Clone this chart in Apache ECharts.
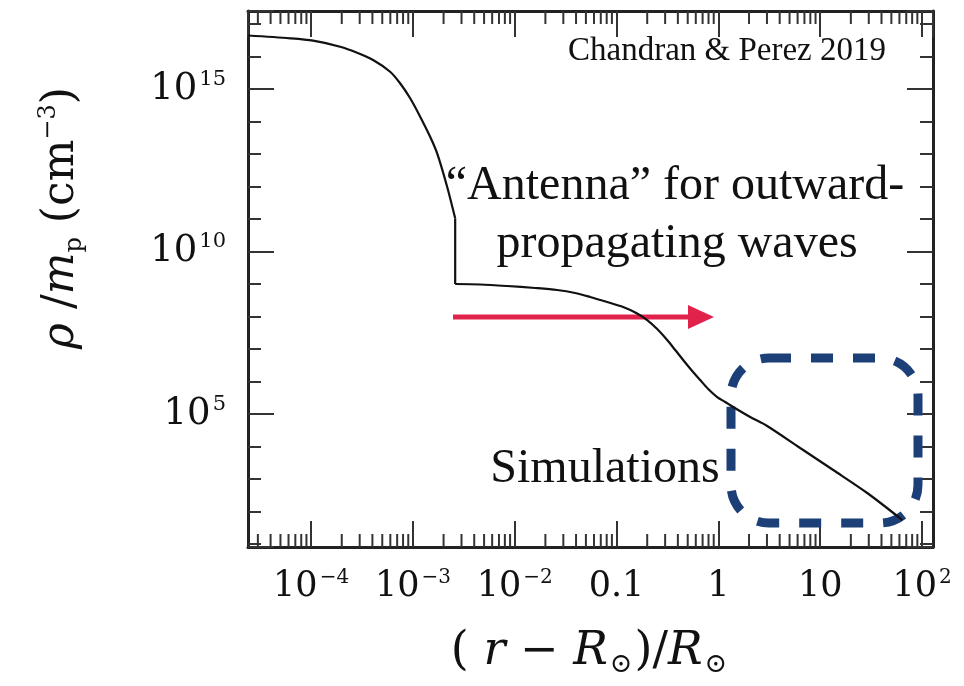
<!DOCTYPE html>
<html><head><meta charset="utf-8">
<script src="https://cdn.jsdelivr.net/npm/echarts@6/dist/echarts.min.js"></script>
<style>html,body{margin:0;padding:0;background:#fff}#c{width:964px;height:686px}</style>
</head><body><div id="c"></div>
<script>
// (r - R_sun)/R_sun
const radius = [2.40e-5, 6.22e-5, 1.047e-4, 1.928e-4, 2.831e-4, 4.064e-4, 5.970e-4, 7.482e-4, 9.397e-4,
  1.178e-3, 1.476e-3, 1.730e-3, 2.168e-3, 2.600e-3, 2.600e-3, 4.571e-3, 8.414e-3, 1.585e-2, 2.612e-2,
  3.917e-2, 5.508e-2, 8.091e-2, 0.1161, 0.1560, 0.2000, 0.2506, 0.3141, 0.3767, 0.4508, 0.5534, 0.6622,
  0.7943, 0.9727, 1.167, 1.396, 2.051, 3.013, 6.353, 13.43, 28.97, 64.0];
// rho / m_p  (cm^-3)
const density = [4.43e16, 3.63e16, 3.06e16, 2.00e16, 1.31e16, 7.80e15, 3.40e15, 1.50e15, 5.18e14,
  1.41e14, 3.40e13, 1.05e13, 9.86e11, 1.05e11, 1.00e9, 9.66e8, 8.67e8, 7.53e8, 6.53e8,
  5.28e8, 3.98e8, 2.79e8, 1.96e8, 1.28e8, 7.80e7, 4.12e7, 1.89e7, 9.31e6, 4.59e6, 2.10e6, 1.11e6,
  5.87e5, 3.33e5, 2.34e5, 1.64e5, 8.09e4, 4.28e4, 9.0e3, 1.89e3, 371, 54.7];
// index where the density profile jumps (transition region)
const jumpIndex = 13;

const xTickExp = [-4, -3, -2, -1, 0, 1, 2];
const xTickBase = ['10', '10', '10', '0.1', '1', '10', '10'];
const xTickSup = ['−4', '−3', '−2', '', '', '', '2'];
const yTickExp = [5, 10, 15];
const yTickBase = ['10', '10', '10'];
const yTickSup = ['5', '10', '15'];
const xRange = [2.40e-5, 128.2];
const yRange = [8.09, 2.51e17];

const L = Math.log10;
const xMin = L(xRange[0]), xMax = L(xRange[1]);
const yMin = L(yRange[0]), yMax = L(yRange[1]);

// log minor ticks (2..9 per decade) for the x axis
const minorX = [];
for (let d = Math.floor(xMin); d <= Math.ceil(xMax); d++) {
  for (let k = 2; k <= 9; k++) {
    const v = d + L(k);
    if (v > xMin && v < xMax) minorX.push([v]);
  }
}

const serif = 'DejaVu Serif';
const axisColor = '#222';
function fmtX(v) {
  const i = xTickExp.findIndex(e => Math.abs(e - v) < 1e-6);
  if (i < 0) return '';
  return xTickSup[i] ? '{b|' + xTickBase[i] + '}{s|' + xTickSup[i] + '}' : '{b|' + xTickBase[i] + '}';
}
function fmtY(v) {
  const i = yTickExp.findIndex(e => Math.abs(e - v) < 1e-6);
  if (i < 0) return '';
  return '{b|' + yTickBase[i] + '}{s|' + yTickSup[i] + '}';
}
const xRich = {
  b: { fontFamily: serif, fontSize: 35, color: '#111', lineHeight: 38 },
  s: { fontFamily: serif, fontSize: 20, color: '#111', verticalAlign: 'top', lineHeight: 20, padding: [0, 0, 0, 2] }
};
const yRich = {
  b: { fontFamily: serif, fontSize: 37, color: '#111', lineHeight: 40 },
  s: { fontFamily: serif, fontSize: 21, color: '#111', verticalAlign: 'top', lineHeight: 21, padding: [0, 0, 0, 2] }
};
function xAxisCfg(pos, labels) {
  return {
    type: 'value', position: pos, min: xMin, max: xMax, minInterval: 1, maxInterval: 1, splitNumber: 7,
    axisLine: { show: true, onZero: false, lineStyle: { color: axisColor, width: 3 } },
    axisTick: { show: true, inside: true, length: 26, lineStyle: { color: '#333', width: 2 } },
    minorTick: { show: false },
    splitLine: { show: false },
    axisLabel: { show: labels, margin: 21, formatter: fmtX, rich: xRich, showMinLabel: false, showMaxLabel: false }
  };
}
function yAxisCfg(pos, labels) {
  return {
    type: 'value', position: pos, min: yMin, max: yMax, minInterval: 5, maxInterval: 5, splitNumber: 3,
    axisLine: { show: true, onZero: false, lineStyle: { color: axisColor, width: 3 } },
    axisTick: { show: true, inside: true, length: 26, lineStyle: { color: '#333', width: 2 } },
    minorTick: { show: true, splitNumber: 5, length: 13, lineStyle: { color: '#333', width: 2 } },
    splitLine: { show: false }, minorSplitLine: { show: false },
    axisLabel: { show: labels, margin: 22, formatter: fmtY, rich: yRich, showMinLabel: false, showMaxLabel: false }
  };
}

const pts = radius.map((r, i) => [L(r), L(density[i])]);
const curveStyle = { color: '#111', width: 2.2 };
function curve(data, smooth) {
  return {
    type: 'line', xAxisIndex: 0, yAxisIndex: 0, z: 5, data: data,
    showSymbol: false, symbol: 'none', smooth: smooth, lineStyle: curveStyle, silent: true
  };
}

const chart = echarts.init(document.getElementById('c'), null, { renderer: 'canvas' });
chart.setOption({
  backgroundColor: '#fff',
  animation: false,
  grid: { left: 248, right: 31, top: 11, bottom: 139, containLabel: false },
  xAxis: [xAxisCfg('bottom', true), xAxisCfg('top', false)],
  yAxis: [yAxisCfg('left', true), yAxisCfg('right', false)],
  series: [
    curve(pts.slice(0, jumpIndex + 1), 0.3),
    curve(pts.slice(jumpIndex, jumpIndex + 2), false),
    curve(pts.slice(jumpIndex + 1), 0.3),
    {
      type: 'custom', xAxisIndex: 0, yAxisIndex: 0, silent: true, clip: false, z: 4,
      data: minorX,
      renderItem: function (params, api) {
        const v = api.value(0);
        const b = api.coord([v, yMin]);
        const t = api.coord([v, yMax]);
        const st = { stroke: '#333', lineWidth: 2 };
        return {
          type: 'group', children: [
            { type: 'line', shape: { x1: b[0], y1: b[1], x2: b[0], y2: b[1] - 13 }, style: st },
            { type: 'line', shape: { x1: t[0], y1: t[1], x2: t[0], y2: t[1] + 13 }, style: st }
          ]
        };
      }
    }
  ],
  graphic: [
    { type: 'line', z: 1, shape: { x1: 453, y1: 317, x2: 692, y2: 317 }, style: { stroke: '#e1224b', lineWidth: 5 } },
    { type: 'polygon', z: 1, shape: { points: [[688, 305], [714, 317], [688, 329]] }, style: { fill: '#e1224b' } },
    { type: 'rect', z: 1, shape: { x: 731, y: 358, width: 187, height: 165, r: 38 },
      style: { fill: 'none', stroke: '#1d3f78', lineWidth: 9, lineDash: [22, 20] } },
    { type: 'text', z: 10, x: 727, y: 51, style: { text: 'Chandran & Perez 2019', font: '33px "Liberation Serif"', fill: '#111', align: 'center', verticalAlign: 'middle' } },
    { type: 'text', z: 10, x: 675, y: 186, style: { text: '“Antenna” for outward-', font: '48px "Liberation Serif"', fill: '#111', align: 'center', verticalAlign: 'middle' } },
    { type: 'text', z: 10, x: 677, y: 244, style: { text: 'propagating waves', font: '48px "Liberation Serif"', fill: '#111', align: 'center', verticalAlign: 'middle' } },
    { type: 'text', z: 10, x: 605, y: 469, style: { text: 'Simulations', font: '48px "Liberation Serif"', fill: '#111', align: 'center', verticalAlign: 'middle' } },
    { type: 'text', z: 10, x: 590, y: 652, style: {
        text: '{n|( }{i|r}{n| − }{i|R}{sub|⊙}{n|)/}{i|R}{sub|⊙}', align: 'center', verticalAlign: 'middle',
        rich: {
          n: { fontFamily: serif, fontSize: 46, fill: '#111', lineHeight: 52 },
          i: { fontFamily: serif, fontStyle: 'italic', fontSize: 46, fill: '#111', lineHeight: 52 },
          sub: { fontFamily: serif, fontSize: 27, fill: '#111', verticalAlign: 'bottom', lineHeight: 16, padding: [0, 2, 0, 2] }
        } } },
    { type: 'text', z: 10, x: 62, y: 218, rotation: Math.PI / 2, style: {
        text: '{i|ρ}{n| /}{i|m}{sub|p}{n| (cm}{sup|−3}{n|)}', align: 'center', verticalAlign: 'middle',
        rich: {
          n: { fontFamily: serif, fontSize: 44, fill: '#111', lineHeight: 50 },
          i: { fontFamily: serif, fontStyle: 'italic', fontSize: 44, fill: '#111', lineHeight: 50 },
          sub: { fontFamily: serif, fontSize: 24, fill: '#111', verticalAlign: 'bottom', lineHeight: 14 },
          sup: { fontFamily: serif, fontSize: 24, fill: '#111', verticalAlign: 'top', lineHeight: 22 }
        } } }
  ]
});
</script></body></html>
